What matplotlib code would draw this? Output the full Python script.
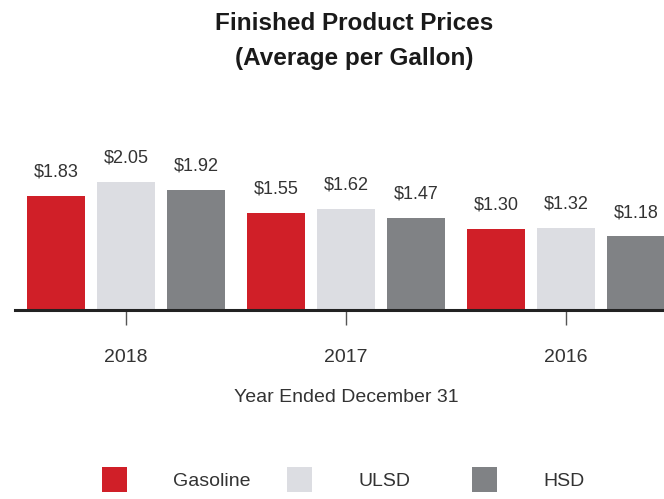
import numpy as np
import matplotlib.pyplot as plt
from matplotlib.patches import Rectangle

plt.rcParams['font.family'] = ['Liberation Sans', 'DejaVu Sans']

years = ['2018', '2017', '2016']
products = ['Gasoline', 'ULSD', 'HSD']
gasoline = [1.83, 1.55, 1.30]
ulsd = [2.05, 1.62, 1.32]
hsd = [1.92, 1.47, 1.18]

colors = ['#d01f28', '#dcdde2', '#808285']
text_color = '#333333'

fig = plt.figure(figsize=(6.64, 4.99), dpi=100)
W, H = 664, 499
# axes box in pixels: baseline at y=310, spine starts at x=15
ax = fig.add_axes([15 / W, (H - 310) / H, 1 - 15 / W, 170 / H])

x = np.arange(len(years))
width = 0.264
offset = 0.318
series = [gasoline, ulsd, hsd]
for i, vals in enumerate(series):
    pos = x + (i - 1) * offset
    bars = ax.bar(pos, vals, width=width, color=colors[i], label=products[i], zorder=2)
    for b, v in zip(bars, vals):
        ax.annotate(f'${v:.2f}', (b.get_x() + b.get_width() / 2, v),
                    xytext=(0, 14), textcoords='offset points',
                    ha='center', va='baseline', fontsize=13, color=text_color)

ax.set_xlim(-0.505, 2.445)
ax.set_ylim(0, 170 / 62.3)
ax.set_yticks([])
ax.set_xticks(x)
ax.set_xticklabels(years, fontsize=14, color=text_color)
ax.tick_params(axis='x', length=11, width=1, color='#555555', pad=17)
for s in ['top', 'right', 'left']:
    ax.spines[s].set_visible(False)
ax.spines['bottom'].set_linewidth(2.2)
ax.spines['bottom'].set_color('#222222')
ax.spines['bottom'].set_zorder(3)

fig.text(354 / W, 1 - 41 / H, 'Finished Product Prices\n(Average per Gallon)',
         ha='center', va='center', fontsize=17.5, fontweight='bold',
         color='#1a1a1a', linespacing=1.7)
fig.text(346 / W, 1 - 397 / H, 'Year Ended December 31',
         ha='center', va='center', fontsize=14, color=text_color)

# legend: swatch and label pairs laid out along one row
sw = 25
for i, (name, c) in enumerate(zip(products, colors)):
    x0 = 102 + i * 185
    fig.add_artist(Rectangle((x0 / W, (H - 492) / H), sw / W, sw / H,
                             transform=fig.transFigure, facecolor=c, edgecolor='none'))
    fig.text((x0 + 71) / W, 1 - 481 / H, name, ha='left', va='center',
             fontsize=14, color=text_color)

fig.savefig('out.png', dpi=100)
